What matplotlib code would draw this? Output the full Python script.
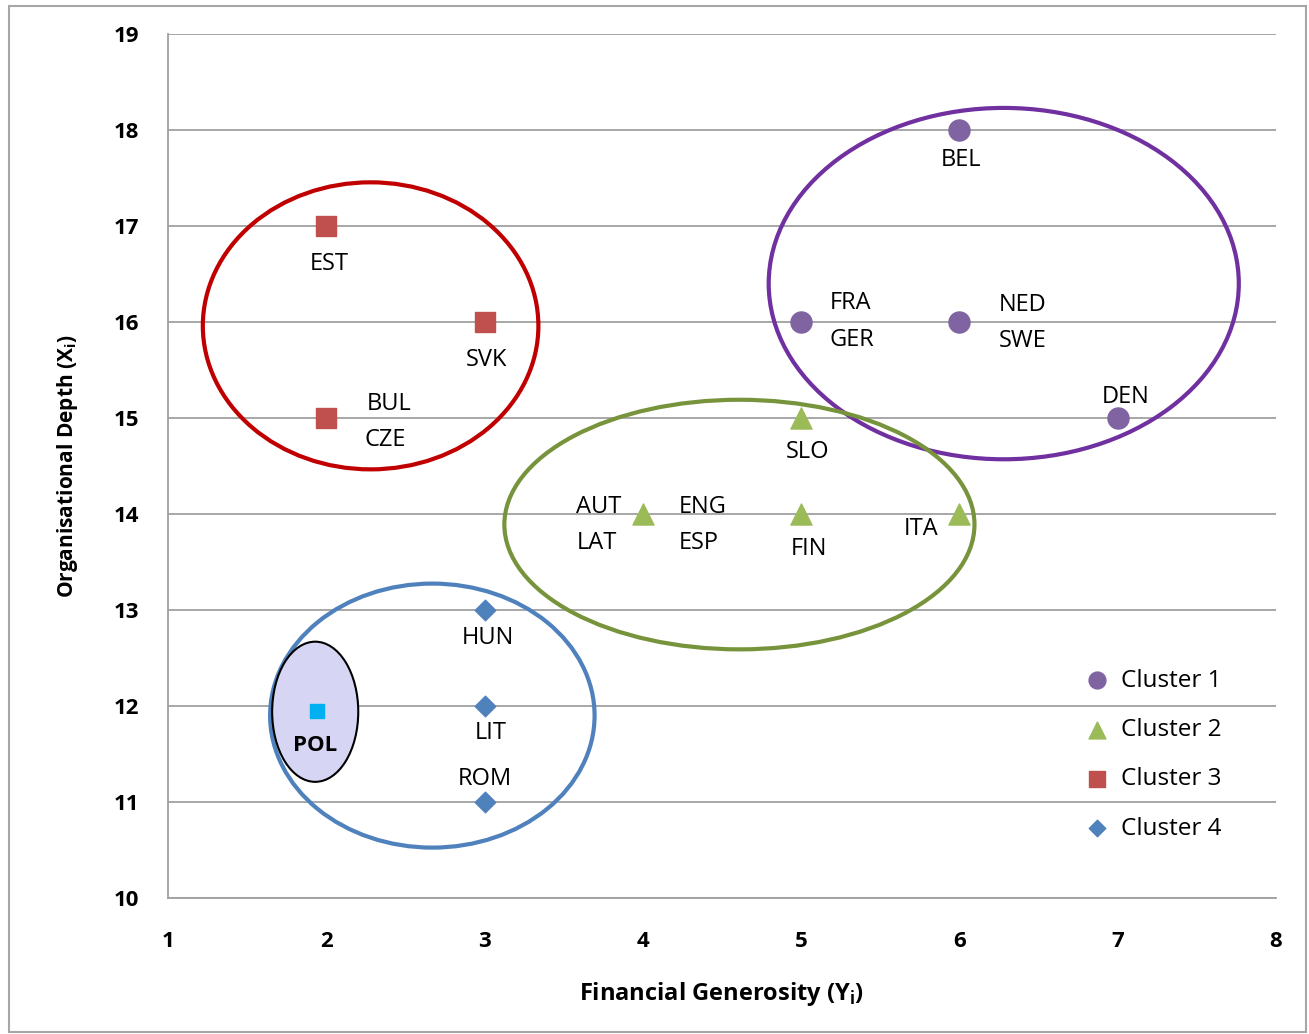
import matplotlib.pyplot as plt
from matplotlib.patches import Ellipse, Rectangle

plt.rcParams['font.family'] = ['Open Sans', 'DejaVu Sans']

# cluster members: (x, y)
c1_x = [6, 5, 6, 7]
c1_y = [18, 16, 16, 15]
c2_x = [5, 4, 5, 6]
c2_y = [15, 14, 14, 14]
c3_x = [2, 3, 2]
c3_y = [17, 16, 15]
c4_x = [3, 3, 3]
c4_y = [13, 12, 11]
pol_x = [1.94]
pol_y = [11.95]

# country labels: (text, x, y)
label_text = ['BEL', 'FRA', 'GER', 'NED', 'SWE', 'DEN', 'SLO', 'AUT', 'LAT',
              'ENG', 'ESP', 'FIN', 'ITA', 'EST', 'SVK', 'BUL', 'CZE',
              'HUN', 'LIT', 'ROM']
label_x = [6.01, 5.31, 5.32, 6.40, 6.40, 7.05, 5.04, 3.72, 3.71,
           4.38, 4.35, 5.05, 5.76, 2.02, 3.01, 2.40, 2.37,
           3.02, 3.04, 3.00]
label_y = [17.69, 16.20, 15.81, 16.18, 15.80, 15.22, 14.65, 14.07, 13.70,
           14.07, 13.70, 13.64, 13.84, 16.60, 15.60, 15.15, 14.77,
           12.71, 11.72, 11.24]

# cluster outlines: centre x, centre y, width, height, colour
ell_cx = [6.28, 4.61, 2.28, 2.67]
ell_cy = [16.40, 13.89, 15.96, 11.90]
ell_w = [2.97, 2.97, 2.12, 2.05]
ell_h = [3.66, 2.60, 2.99, 2.75]
ell_col = ['#7030A0', '#77933C', '#C00000', '#4F81BD']

fig = plt.figure(figsize=(13.09, 10.34), dpi=100)
ax = fig.add_axes([168 / 1309, 1 - 898 / 1034, (1276 - 168) / 1309, (898 - 34) / 1034])

fig.patches.append(Rectangle((9 / 1309, 1 - 1032 / 1034), 1297 / 1309, 1026 / 1034,
                             transform=fig.transFigure, fill=False,
                             edgecolor='#A6A6A6', linewidth=1.5))

ax.set_xlim(1, 8)
ax.set_ylim(10, 19)
ax.set_xticks(range(1, 9))
ax.set_yticks(range(10, 20))
ax.grid(axis='y', color='#A0A0A0', linewidth=1.3)
ax.set_axisbelow(True)
for s in ['top', 'right']:
    ax.spines[s].set_visible(False)
for s in ['left', 'bottom']:
    ax.spines[s].set_color('#A0A0A0')
    ax.spines[s].set_linewidth(1.3)
ax.tick_params(length=0, labelsize=16, pad=21)
ax.tick_params(axis='x', pad=24)
for t in ax.get_xticklabels() + ax.get_yticklabels():
    t.set_fontweight('bold')

for cx, cy, w, h, col in zip(ell_cx, ell_cy, ell_w, ell_h, ell_col):
    ax.add_patch(Ellipse((cx, cy), w, h, fill=False, edgecolor=col, linewidth=3, zorder=2))

ax.add_patch(Ellipse((1.93, 11.94), 0.544, 1.46, facecolor='#D6D6F4',
                     edgecolor='black', linewidth=1.5, zorder=3))

ax.scatter(c1_x, c1_y, marker='o', s=230, color='#8064A2', label='Cluster 1', zorder=4)
ax.scatter(c2_x, c2_y, marker='^', s=230, color='#9BBB59', label='Cluster 2', zorder=4)
ax.scatter(c3_x, c3_y, marker='s', s=200, color='#C0504D', label='Cluster 3', zorder=4)
ax.scatter(c4_x, c4_y, marker='D', s=110, color='#4F81BD', label='Cluster 4', zorder=4)
ax.scatter(pol_x, pol_y, marker='s', s=90, color='#00B0F0', zorder=5)

for t, x, y in zip(label_text, label_x, label_y):
    ax.text(x, y, t, ha='center', va='center', fontsize=17, zorder=5)
ax.text(1.93, 11.59, 'POL', ha='center', va='center', fontsize=16,
        fontweight='bold', zorder=5)

ax.set_xlabel('Financial Generosity (Y$_\\mathregular{i}$)', fontsize=17,
              fontweight='bold', labelpad=20)
ax.set_ylabel('Organisational Depth (X$_\\mathregular{i}$)', fontsize=15,
              fontweight='bold', labelpad=24)

ax.legend(loc='lower right', bbox_to_anchor=(0.971, 0.041), frameon=False,
          fontsize=17.5, handletextpad=0.0, labelspacing=1.04, markerscale=0.8)

fig.savefig('out.png', dpi=100)
